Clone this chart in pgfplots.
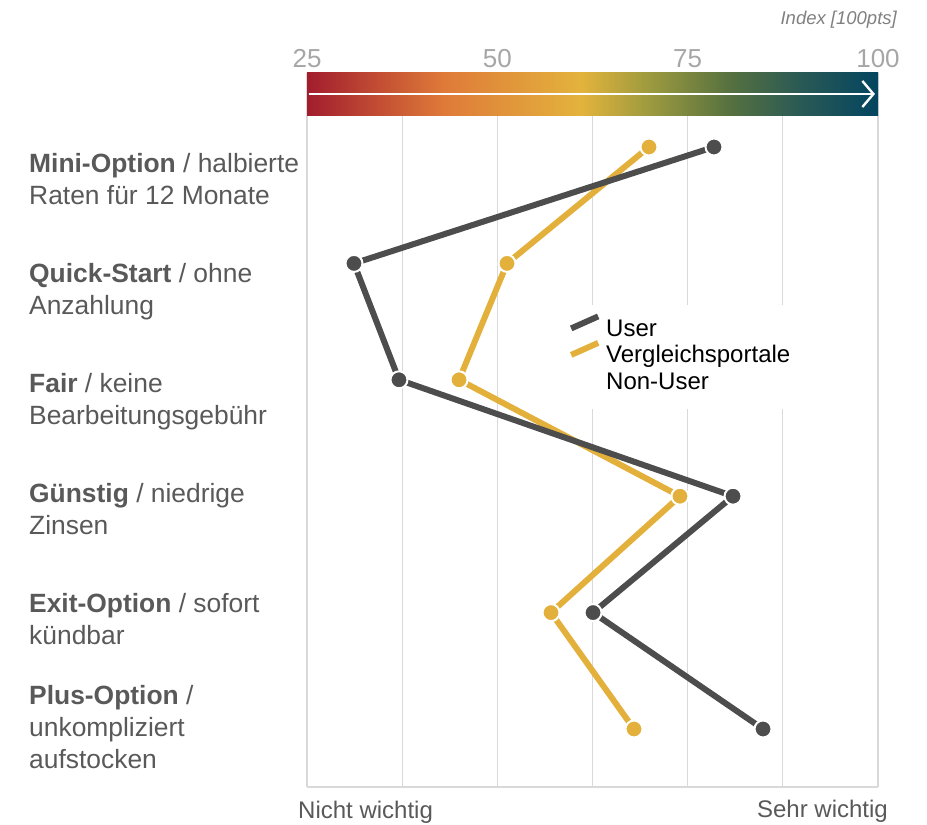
\documentclass[border=0pt]{standalone}
\usepackage{pgfplots}
\pgfplotsset{compat=1.18}
\usepackage{fontspec}
\setmainfont{Liberation Sans}
\usetikzlibrary{arrows.meta}
\definecolor{userc}{HTML}{4D4D4D}
\definecolor{vglc}{HTML}{E3B13B}
\definecolor{gridc}{HTML}{D9D9D9}
\definecolor{labc}{HTML}{595959}
\definecolor{tickc}{HTML}{A6A6A6}
\definecolor{idxc}{HTML}{808080}
\definecolor{c1}{HTML}{A21D2D}
\definecolor{c2}{HTML}{DF7A39}
\definecolor{c3}{HTML}{E3B33C}
\definecolor{c4}{HTML}{9C9A3F}
\definecolor{c5}{HTML}{56713F}
\definecolor{c6}{HTML}{2B5A55}
\definecolor{c7}{HTML}{03455F}
\pgfdeclarehorizontalshading{cbar}{100bp}{color(0bp)=(c1); color(25bp)=(c1); color(37bp)=(c2); color(49bp)=(c3); color(55bp)=(c4); color(62bp)=(c5); color(68bp)=(c6); color(75bp)=(c7); color(100bp)=(c7)}

\pgfplotstableread{
x y
78.46 0
31.17 1
37.08 2
80.96 3
62.57 4
84.90 5
}\userdata
\pgfplotstableread{
x y
69.92 0
51.27 1
44.97 2
73.99 3
57.05 4
67.95 5
}\vgldata

\begin{document}
\begin{tikzpicture}[x=1bp,y=1bp]
\path[use as bounding box] (0,0) rectangle (927,825);
\begin{axis}[
  at={(307bp,38bp)}, anchor=south west, scale only axis,
  width=571bp, height=714bp,
  xmin=25, xmax=100, ymin=-0.6357, ymax=5.4983, y dir=reverse,
  axis line style={draw=none}, tick style={draw=none},
  xtick={25,37.5,50,62.5,75,87.5,100}, xticklabels={}, ytick=\empty,
  xmajorgrids, grid style={gridc, line width=1.3bp},
  clip=false,
  legend cell align=left,
  legend image code/.code={\path[draw=none, fill=none] (0bp,0bp) -- (27bp,0bp);\draw[#1, overlay, mark=none, line width=6bp] (0bp,2bp) -- (27bp,14bp);},
  legend style={at={(axis cs:58.36,1.357)}, anchor=north west, draw=none, fill=white,
    inner xsep=10bp, inner ysep=12bp, row sep=0pt, column sep=8bp,
    font=\fontsize{24bp}{27bp}\selectfont,
    nodes={inner sep=0pt, text height=19bp, text depth=7.5bp}},
]
\draw[gridc, line width=1.3bp] (axis cs:25,5.4983) -- (axis cs:100,5.4983);
\fill[shading=cbar] (axis cs:25,-0.6357) rectangle (axis cs:100,-0.2663);
\draw[white, line width=2.4bp, -{Straight Barb[length=11bp,width=26bp,line width=2.4bp]}] (axis cs:25.2,-0.4553) -- (axis cs:99.6,-0.4553);

\addlegendimage{userc, line width=6bp}
\addlegendentry{User}
\addlegendimage{vglc, line width=6bp}
\addlegendentry{Vergleichsportale}
\addlegendimage{empty legend}
\addlegendentry{Non-User}

\addplot[forget plot, vglc, line width=6bp, mark=*, mark size=8.5bp,
  mark options={solid, fill=vglc, draw=white, line width=2bp}] table[x=x,y=y] {\vgldata};
\addplot[forget plot, userc, line width=6bp, mark=*, mark size=8.5bp,
  mark options={solid, fill=userc, draw=white, line width=2bp}] table[x=x,y=y] {\userdata};

\node[anchor=base, text=tickc, font=\fontsize{26bp}{30bp}\selectfont] at (axis cs:25,-0.6787) {25};
\node[anchor=base, text=tickc, font=\fontsize{26bp}{30bp}\selectfont] at (axis cs:50,-0.6787) {50};
\node[anchor=base, text=tickc, font=\fontsize{26bp}{30bp}\selectfont] at (axis cs:75,-0.6787) {75};
\node[anchor=base, text=tickc, font=\fontsize{26bp}{30bp}\selectfont] at (axis cs:100,-0.6787) {100};
\end{axis}

\node[anchor=base east, text=idxc, inner sep=0pt, font=\fontsize{18.5bp}{20bp}\selectfont\itshape] at (897,800) {Index [100pts]};

\begin{scope}[every node/.style={anchor=base west, inner sep=0pt, text=labc, font=\fontsize{26.4bp}{32bp}\selectfont}]
\node at (29,652) {\begin{tabular}[t]{@{}l@{}}\textbf{Mini-Option} / halbierte\\Raten für 12 Monate\end{tabular}};
\node at (29,542) {\begin{tabular}[t]{@{}l@{}}\textbf{Quick-Start} / ohne\\Anzahlung\end{tabular}};
\node at (29,432) {\begin{tabular}[t]{@{}l@{}}\textbf{Fair} / keine\\Bearbeitungsgebühr\end{tabular}};
\node at (29,322) {\begin{tabular}[t]{@{}l@{}}\textbf{Günstig} / niedrige\\Zinsen\end{tabular}};
\node at (29,212) {\begin{tabular}[t]{@{}l@{}}\textbf{Exit-Option} / sofort\\kündbar\end{tabular}};
\node at (29,120) {\begin{tabular}[t]{@{}l@{}}\textbf{Plus-Option} /\\unkompliziert\\aufstocken\end{tabular}};
\end{scope}

\node[anchor=base west, inner sep=0pt, text=labc, font=\fontsize{24bp}{28bp}\selectfont] at (298,6) {Nicht wichtig};
\node[anchor=base east, inner sep=0pt, text=labc, font=\fontsize{24bp}{28bp}\selectfont] at (888,7) {Sehr wichtig};
\end{tikzpicture}
\end{document}
